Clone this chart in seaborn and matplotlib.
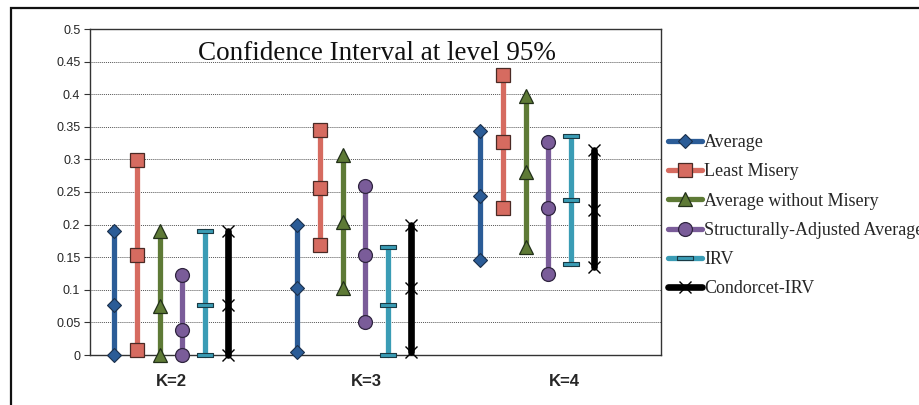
import numpy as np
import pandas as pd
import matplotlib
matplotlib.use("Agg")
import matplotlib.pyplot as plt
from matplotlib.path import Path
from matplotlib.lines import Line2D
from matplotlib.patches import Rectangle
import seaborn as sns

# ---------------- data ----------------
categories = ["K=2", "K=3", "K=4"]
series = ["Average", "Least Misery", "Average without Misery",
          "Structurally-Adjusted Average", "IRV", "Condorcet-IRV"]

avg_low = [0.000, 0.005, 0.145]
avg_mid = [0.077, 0.103, 0.244]
avg_high = [0.190, 0.199, 0.344]

lm_low = [0.008, 0.169, 0.226]
lm_mid = [0.154, 0.256, 0.327]
lm_high = [0.299, 0.345, 0.430]

awm_low = [0.000, 0.103, 0.166]
awm_mid = [0.075, 0.204, 0.281]
awm_high = [0.190, 0.307, 0.397]

saa_low = [0.000, 0.050, 0.124]
saa_mid = [0.038, 0.154, 0.225]
saa_high = [0.122, 0.259, 0.327]

irv_low = [0.000, 0.000, 0.140]
irv_mid = [0.077, 0.077, 0.238]
irv_high = [0.190, 0.165, 0.336]

cirv_low = [0.000, 0.005, 0.135]
cirv_mid = [0.077, 0.103, 0.222]
cirv_high = [0.190, 0.200, 0.314]

yticks = [0, 0.05, 0.1, 0.15, 0.2, 0.25, 0.3, 0.35, 0.4, 0.45, 0.5]
ytick_labels = ["0", "0.05", "0.1", "0.15", "0.2", "0.25", "0.3", "0.35", "0.4", "0.45", "0.5"]
title = "Confidence Interval at level 95%"

lows = [avg_low, lm_low, awm_low, saa_low, irv_low, cirv_low]
mids = [avg_mid, lm_mid, awm_mid, saa_mid, irv_mid, cirv_mid]
highs = [avg_high, lm_high, awm_high, saa_high, irv_high, cirv_high]

# ---------------- style ----------------
sns.set_theme(style="white")
plt.rcParams['font.family'] = ['Liberation Sans', 'DejaVu Sans']

colors = ["#2b5c97", "#d66b60", "#5e7a36", "#7a5c99", "#3a9cb5", "#000000"]
dash = Path([(-1, -0.2), (1, -0.2), (1, 0.2), (-1, 0.2), (-1, -0.2)],
            [Path.MOVETO, Path.LINETO, Path.LINETO, Path.LINETO, Path.CLOSEPOLY])
marker_specs = [
    dict(marker="D", markersize=7.5, markeredgecolor="#1a2f4a", markeredgewidth=0.8),
    dict(marker="s", markersize=10, markeredgecolor="#4a2a25", markeredgewidth=0.9),
    dict(marker="^", markersize=10, markeredgecolor="#22301a", markeredgewidth=0.9),
    dict(marker="o", markersize=10, markeredgecolor="#302540", markeredgewidth=0.9),
    dict(marker=dash, markersize=11, markeredgecolor="#1a3a44", markeredgewidth=0.8),
    dict(marker="x", markersize=9, markeredgecolor="#000000", markeredgewidth=1.0),
]
line_widths = [3.8, 3.8, 3.8, 3.8, 3.8, 4.8]

fig = plt.figure(figsize=(9.19, 4.05), dpi=100)
ax = fig.add_axes([90 / 919, 50 / 405, 571 / 919, 326 / 405])

step = 0.124
for j, name in enumerate(series):
    xs, ys, units = [], [], []
    for i in range(len(categories)):
        xpos = i + (j - 2.5) * step
        for v in (lows[j][i], mids[j][i], highs[j][i]):
            xs.append(xpos)
            ys.append(v)
            units.append(i)
    df = pd.DataFrame({"x": xs, "y": ys, "u": units})
    sns.lineplot(data=df, x="x", y="y", units="u", estimator=None, sort=False,
                 color=colors[j], linewidth=line_widths[j], ax=ax,
                 markerfacecolor=colors[j], zorder=3 + j, clip_on=False,
                 **marker_specs[j])

ax.set_xlim(-0.443, 2.678)
ax.set_ylim(0, 0.5)
ax.set_yticks(yticks)
ax.set_yticklabels(ytick_labels, fontsize=9)
ax.set_xticks([0.0, 1.07, 2.15])
ax.set_xticklabels(categories, fontsize=12, fontweight="bold")
ax.tick_params(axis="x", length=0, pad=14)
ax.tick_params(axis="y", length=4, width=0.8, direction="out", color="#333333", pad=3, left=True)
ax.set_xlabel("")
ax.set_ylabel("")
ax.grid(axis="y", linestyle=(0, (1, 1)), color="#555555", linewidth=0.7)
ax.set_axisbelow(True)
for s in ax.spines.values():
    s.set_color("#333333")
    s.set_linewidth(1.0)

ax.text(0.503, 0.926, title, transform=ax.transAxes, ha="center", va="center",
        fontsize=19.5, family=["Liberation Serif", "DejaVu Serif"], color="#111111")

handles = []
for j, name in enumerate(series):
    h = Line2D([0], [0], color=colors[j], linewidth=line_widths[j],
               markerfacecolor=colors[j], **marker_specs[j])
    handles.append(h)
leg = fig.legend(handles, series, loc="upper left",
                 bbox_to_anchor=(668 / 919, 1 - 134 / 405),
                 frameon=False, borderpad=0, borderaxespad=0,
                 handlelength=1.9, handletextpad=0.1, labelspacing=0.68,
                 prop={"family": ["Liberation Serif", "DejaVu Serif"], "size": 13})

# outer chart border
fig.patches.append(Rectangle((11 / 919, -0.05), 1.0, 1 - 8 / 405 + 0.05,
                             transform=fig.transFigure, fill=False,
                             edgecolor="#111111", linewidth=1.6, zorder=0))

fig.savefig("out.png", dpi=100)
